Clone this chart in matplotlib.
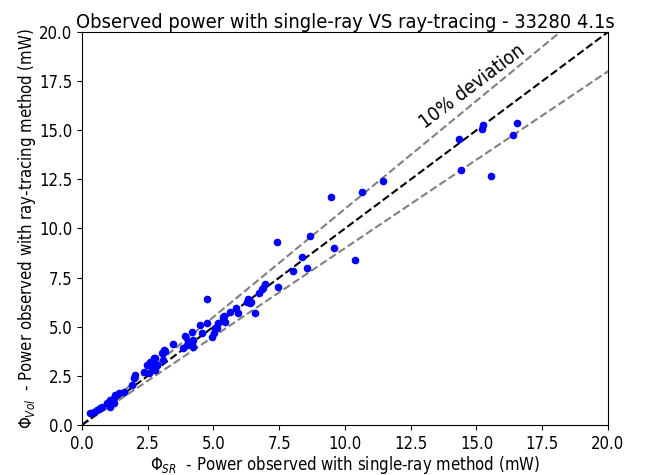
import matplotlib
matplotlib.use("Agg")
import matplotlib.pyplot as plt
import numpy as np

# condensed DejaVu, as in the reference
plt.rcParams['font.family'] = ['DejaVu Sans']
plt.rcParams['font.stretch'] = 'condensed'

# single-ray power (mW)
p_sr = [16.53, 16.40, 15.26, 15.20, 14.33, 14.41, 15.55,
        11.46, 10.65, 9.46, 7.43, 8.67, 9.58, 10.38, 8.38, 8.03, 8.57,
        7.46, 6.96, 6.89, 6.74, 6.41, 6.83, 6.32, 6.26, 6.39, 6.58,
        5.84, 5.94, 5.63, 5.40, 5.37, 5.18, 5.06, 5.02, 4.74, 4.55, 4.93,
        4.74, 5.35, 5.44, 5.12, 4.49, 4.17, 3.92, 4.04, 4.23, 4.17, 3.98,
        4.23, 3.85, 3.47, 3.16, 3.09, 2.78, 2.65, 3.09, 2.84, 2.78, 2.65,
        3.10, 3.04, 2.73, 2.60, 2.85, 2.47, 2.66, 2.54, 2.35, 2.03, 1.97,
        1.90, 1.59, 1.40, 1.27, 1.20, 1.08, 1.01, 1.20, 1.08, 0.95, 0.76,
        0.70, 0.57, 0.44, 0.32]
# ray-tracing power (mW)
p_vol = [15.35, 14.76, 15.27, 15.05, 14.54, 12.98, 12.67,
         12.43, 11.84, 11.59, 9.33, 9.60, 8.99, 8.40, 8.55, 7.85, 7.99,
         7.00, 7.16, 6.99, 6.73, 6.27, 6.90, 6.39, 6.27, 6.22, 5.71,
         5.97, 5.71, 5.75, 5.55, 5.34, 5.21, 4.92, 4.70, 5.21, 4.67, 4.46,
         6.41, 5.51, 5.26, 4.92, 5.09, 4.75, 4.53, 4.29, 4.33, 4.16, 4.07,
         3.95, 3.90, 4.12, 3.77, 3.65, 3.39, 3.22, 3.31, 3.05, 2.80, 2.88,
         3.82, 3.65, 3.39, 3.22, 3.05, 3.05, 2.80, 2.63, 2.71, 2.54, 2.37,
         2.04, 1.70, 1.62, 1.53, 1.36, 1.27, 1.19, 1.10, 0.93, 1.10, 0.93,
         0.85, 0.76, 0.68, 0.59]

deviation = 0.10
lim = 20.0

fig = plt.figure(figsize=(6.57, 4.75), dpi=100)
ax = fig.add_axes([0.1248, 0.1053, 0.8006, 0.8273])

xx = np.array([0, lim])
ax.plot(xx, xx * (1 + deviation), '--', color='gray', lw=1.5)
ax.plot(xx, xx * (1 - deviation), '--', color='gray', lw=1.5)
ax.plot(xx, xx, '--', color='black', lw=1.5)
ax.plot(p_sr, p_vol, 'o', color='blue', ms=4.5, ls='none')

ax.text(14.85, 17.25, '10% deviation', rotation=37, ha='center', va='center',
        fontsize=14)

ax.set_xlim(0, lim)
ax.set_ylim(0, lim)
ax.set_xticks(np.arange(0, 20.1, 2.5))
ax.set_yticks(np.arange(0, 20.1, 2.5))
ax.tick_params(labelsize=12)
ax.set_xlabel(r'$\Phi_{SR}$  - Power observed with single-ray method (mW)', fontsize=12,
              labelpad=1)
ax.set_ylabel(r'$\Phi_{Vol}$  - Power observed with ray-tracing method (mW)', fontsize=12,
              labelpad=1)
ax.set_title('Observed power with single-ray VS ray-tracing - 33280 4.1s', fontsize=14.4,
             pad=3)

fig.savefig('out.png', dpi=100)
